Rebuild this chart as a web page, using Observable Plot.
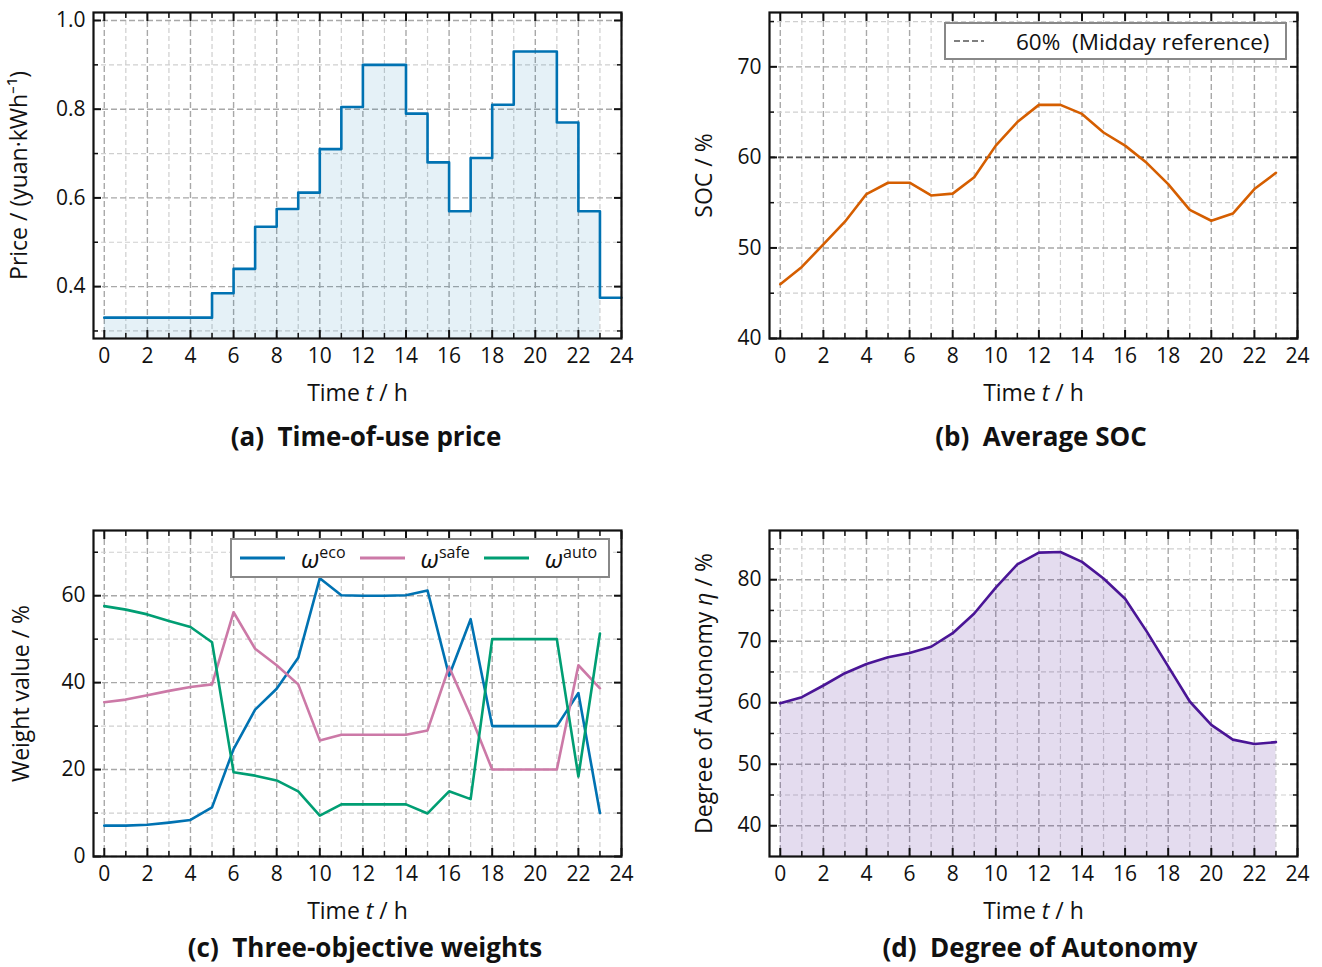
<!DOCTYPE html>
<html><head><meta charset="utf-8">
<script src="https://cdn.jsdelivr.net/npm/d3@7"></script>
<script src="https://cdn.jsdelivr.net/npm/@observablehq/plot@0.6"></script>
<style>
body{margin:0;background:#fff;font-family:"Open Sans",sans-serif;color:#111;}
#fig{position:relative;width:1322px;height:967px;overflow:hidden;background:#fff;}
.panel{position:absolute;}
.panel g[aria-label$="tick label"]{font-size:21px;}
.panel g[aria-label$="axis label"]{font-size:23px;}
.cap{position:absolute;font-weight:700;font-size:26px;white-space:pre;transform:translate(-50%,-50%);line-height:1.1;}
.legend{position:absolute;box-sizing:border-box;border:2.5px solid #888;background:#fff;display:flex;align-items:center;font-size:22.5px;white-space:pre;}
.legend sup{font-size:16px;vertical-align:10px;}
.legend i{font-size:25px;}
</style></head><body><div id="fig"></div>
<script>
// ---------------- data ----------------
const hours = [0,1,2,3,4,5,6,7,8,9,10,11,12,13,14,15,16,17,18,19,20,21,22,23];
const price = [0.33,0.33,0.33,0.33,0.33,0.385,0.44,0.535,0.575,0.612,0.71,0.805,0.90,0.90,0.79,0.68,0.57,0.69,0.81,0.93,0.93,0.77,0.57,0.375];
const soc = [46.0,47.9,50.4,52.9,55.95,57.2,57.2,55.8,56.0,57.8,61.3,63.9,65.8,65.8,64.8,62.75,61.3,59.4,57.05,54.2,53.0,53.8,56.5,58.3];
const socRef = 60;
const wEco  = [7.1,7.1,7.3,7.8,8.4,11.3,24.7,33.8,38.6,45.7,64.0,60.1,60.0,60.0,60.1,61.2,41.6,54.6,30.0,30.0,30.0,30.0,37.6,10.0];
const wSafe = [35.5,36.1,37.1,38.1,39.0,39.6,56.2,47.8,44.0,39.6,26.7,28.0,28.0,28.0,28.0,29.0,43.6,32.4,20.0,20.0,20.0,20.0,44.0,38.7];
const wAuto = [57.6,56.8,55.7,54.2,52.8,49.3,19.4,18.6,17.5,15.0,9.4,12.0,12.0,12.0,12.0,9.9,15.0,13.2,50.0,50.0,50.0,50.0,18.4,51.3];
const autonomy = [59.9,60.9,62.8,64.8,66.3,67.4,68.1,69.1,71.3,74.5,78.7,82.5,84.4,84.5,82.9,80.2,76.9,71.6,65.9,60.2,56.4,54.0,53.3,53.6];

const xMajor = [0,2,4,6,8,10,12,14,16,18,20,22,24];
const xMinor = [1,3,5,7,9,11,13,15,17,19,21,23];

// ---------------- helpers ----------------
const FONT = '"Open Sans", sans-serif';
const cBlue = "#0072B2", cOrange = "#D55E00", cPink = "#CC79A7", cGreen = "#009E73", cPurple = "#4A1596";

function panel({yDomain, yMajor, yMinor, yFormat, ylabel, marks, marginLeft, marginRight, yLabelOffset}) {
  return Plot.plot({
    width: 660, height: 420,
    marginTop: 12, marginBottom: 82, marginLeft, marginRight,
    style: {fontFamily: FONT, fontSize: "21px", color: "#111", background: "white", overflow: "visible"},
    x: {domain: [-0.5, 24], label: null},
    y: {domain: yDomain, label: null},
    marks: [
      Plot.gridX(xMinor, {stroke: "#cfcfcf", strokeOpacity: 1, strokeWidth: 1.2, strokeDasharray: "5,3"}),
      Plot.gridX(xMajor, {stroke: "#a8a8a8", strokeOpacity: 1, strokeWidth: 1.4, strokeDasharray: "6,3"}),
      Plot.gridY(yMinor, {stroke: "#cfcfcf", strokeOpacity: 1, strokeWidth: 1.2, strokeDasharray: "5,3"}),
      Plot.gridY(yMajor, {stroke: "#a8a8a8", strokeOpacity: 1, strokeWidth: 1.4, strokeDasharray: "6,3"}),
      ...marks,
      // tick labels + axis titles
      Plot.axisX(xMajor, {anchor: "bottom", tickSize: 0, tickPadding: 10, label: "Time t / h", labelAnchor: "center", labelArrow: "none", labelOffset: 62}),
      Plot.axisY(yMajor, {anchor: "left", tickSize: 0, tickPadding: 8, tickFormat: yFormat, label: ylabel, labelAnchor: "center", labelArrow: "none", labelOffset: yLabelOffset}),
      // inward ticks, all four sides
      Plot.axisX(xMajor, {anchor: "bottom", tickSize: -8, strokeWidth: 2, text: null, label: null}),
      Plot.axisX(xMinor, {anchor: "bottom", tickSize: -5, strokeWidth: 1.5, text: null, label: null}),
      Plot.axisX(xMajor, {anchor: "top", tickSize: -8, strokeWidth: 2, text: null, label: null}),
      Plot.axisX(xMinor, {anchor: "top", tickSize: -5, strokeWidth: 1.5, text: null, label: null}),
      Plot.axisY(yMajor, {anchor: "left", tickSize: -8, strokeWidth: 2, text: null, label: null}),
      Plot.axisY(yMinor, {anchor: "left", tickSize: -5, strokeWidth: 1.5, text: null, label: null}),
      Plot.axisY(yMajor, {anchor: "right", tickSize: -8, strokeWidth: 2, text: null, label: null}),
      Plot.axisY(yMinor, {anchor: "right", tickSize: -5, strokeWidth: 1.5, text: null, label: null}),
      Plot.frame({stroke: "#111", strokeWidth: 2.2})
    ]
  });
}

function italicize(svg, axis, html) {
  const t = svg.querySelector(`g[aria-label="${axis}-axis label"] text`);
  if (t) t.innerHTML = html;
}

const fig = document.getElementById("fig");
function place(svg, left, top) {
  const d = document.createElement("div");
  d.className = "panel"; d.style.left = left + "px"; d.style.top = top + "px";
  d.appendChild(svg); fig.appendChild(d);
  italicize(svg, "x", 'Time <tspan font-style="italic">t</tspan> / h');
  return svg;
}
function caption(text, cx, cy) {
  const d = document.createElement("div");
  d.className = "cap"; d.textContent = text;
  d.style.left = cx + "px"; d.style.top = cy + "px";
  fig.appendChild(d);
}

// ---------------- (a) price ----------------
const priceTable = hours.map((t, i) => ({t, p: price[i]}));
const priceLine = priceTable.concat([{t: 24, p: price[price.length - 1]}]);
const svgA = panel({
  yDomain: [0.283, 1.018], yMajor: [0.4, 0.6, 0.8, 1.0], yMinor: [0.3, 0.5, 0.7, 0.9],
  yFormat: d3.format(".1f"), ylabel: "Price / (yuan·kWh⁻¹)",
  marginLeft: 93, marginRight: 39, yLabelOffset: 83,
  marks: [
    Plot.areaY(priceTable, {x: "t", y: "p", curve: "step-after", fill: cBlue, fillOpacity: 0.1, clip: true}),
    Plot.lineY(priceLine, {x: "t", y: "p", curve: "step-after", stroke: cBlue, strokeWidth: 2.6})
  ]
});
place(svgA, 0, 0);

// ---------------- (b) SOC ----------------
const socTable = hours.map((t, i) => ({t, v: soc[i]}));
const svgB = panel({
  yDomain: [40, 76], yMajor: [40, 50, 60, 70], yMinor: [45, 55, 65, 75],
  yFormat: d3.format("d"), ylabel: "SOC / %",
  marginLeft: 108, marginRight: 24, yLabelOffset: 74,
  marks: [
    Plot.ruleY([socRef], {stroke: "#555", strokeWidth: 1.6, strokeDasharray: "6,3"}),
    Plot.lineY(socTable, {x: "t", y: "v", stroke: cOrange, strokeWidth: 2.6})
  ]
});
place(svgB, 661, 0);

// ---------------- (c) weights ----------------
const series = [["eco", wEco], ["safe", wSafe], ["auto", wAuto]];
const wTable = series.flatMap(([k, arr]) => hours.map((t, i) => ({t, k, v: arr[i]})));
const svgC = panel({
  yDomain: [0, 75], yMajor: [0, 20, 40, 60], yMinor: [10, 30, 50, 70],
  yFormat: d3.format("d"), ylabel: "Weight value / %",
  marginLeft: 93, marginRight: 39, yLabelOffset: 81,
  marks: [
    Plot.lineY(wTable, {x: "t", y: "v", z: "k", stroke: d => ({eco: cBlue, safe: cPink, auto: cGreen})[d.k], strokeWidth: 2.6})
  ]
});
place(svgC, 0, 518);

// ---------------- (d) autonomy ----------------
const autTable = hours.map((t, i) => ({t, v: autonomy[i]}));
const svgD = panel({
  yDomain: [35, 88], yMajor: [40, 50, 60, 70, 80], yMinor: [45, 55, 65, 75, 85],
  yFormat: d3.format("d"), ylabel: "Degree of Autonomy η / %",
  marginLeft: 108, marginRight: 24, yLabelOffset: 74,
  marks: [
    Plot.areaY(autTable, {x: "t", y: "v", fill: cPurple, fillOpacity: 0.15, clip: true}),
    Plot.lineY(autTable, {x: "t", y: "v", stroke: cPurple, strokeWidth: 2.6})
  ]
});
place(svgD, 661, 518);
italicize(svgD, "y", 'Degree of Autonomy <tspan font-style="italic">η</tspan> / %');

// ---------------- captions ----------------
caption("(a)  Time-of-use price", 366, 436);
caption("(b)  Average SOC", 1041, 436);
caption("(c)  Three-objective weights", 365, 947);
caption("(d)  Degree of Autonomy", 1040, 947);

// ---------------- legends ----------------
const legB = document.createElement("div");
legB.className = "legend";
Object.assign(legB.style, {left: "944px", top: "22px", width: "343px", height: "38px", paddingLeft: "8px"});
legB.innerHTML = '<svg width="30" height="4" style="margin-right:32px"><line x1="0" x2="30" y1="2" y2="2" stroke="#555" stroke-width="1.6" stroke-dasharray="6,3"/></svg><span>60%  (Midday reference)</span>';
fig.appendChild(legB);

const legC = document.createElement("div");
legC.className = "legend";
Object.assign(legC.style, {left: "230px", top: "538px", width: "380px", height: "40px", paddingLeft: "8px"});
const lineSw = c => `<svg width="45" height="4" style="margin-right:16px"><line x1="0" x2="45" y1="2" y2="2" stroke="${c}" stroke-width="3"/></svg>`;
legC.innerHTML =
  lineSw(cBlue) + '<span style="margin-right:14px"><i>ω</i><sup>eco</sup></span>' +
  lineSw(cPink) + '<span style="margin-right:14px"><i>ω</i><sup>safe</sup></span>' +
  lineSw(cGreen) + '<span><i>ω</i><sup>auto</sup></span>';
fig.appendChild(legC);
</script>
</body></html>
